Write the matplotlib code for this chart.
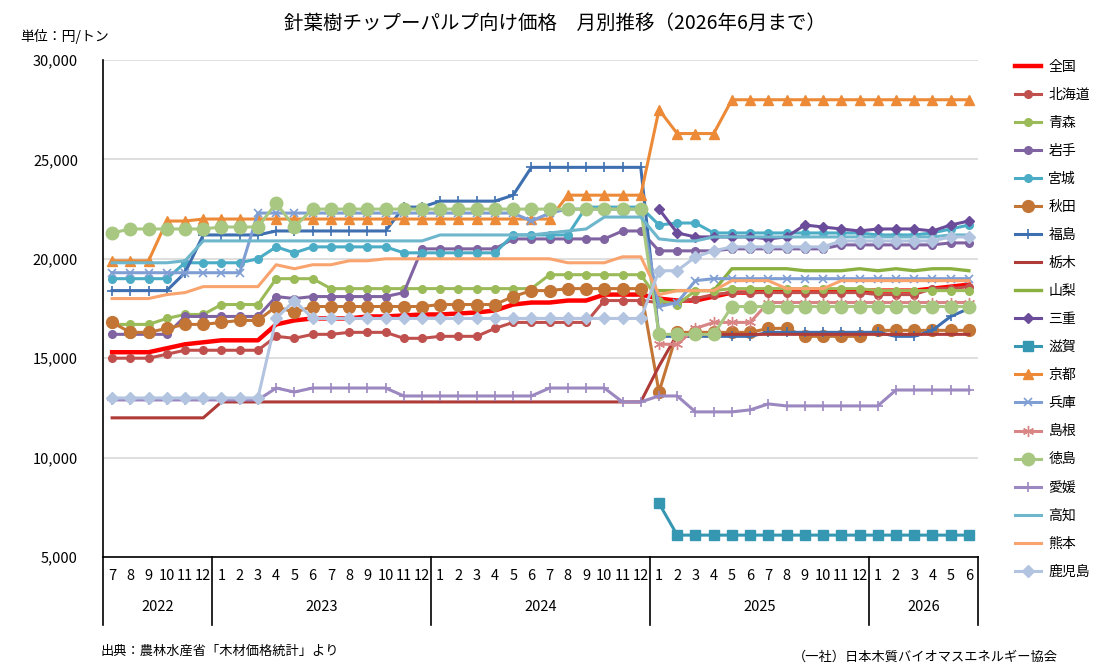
import numpy as np
import matplotlib
matplotlib.use("Agg")
import matplotlib.pyplot as plt
import matplotlib.transforms as mtransforms
from matplotlib.ticker import FuncFormatter

plt.rcParams['font.family'] = ['Noto Sans CJK JP', 'DejaVu Sans']

# months: 2022-07 .. 2026-06
years = ['2022', '2023', '2024', '2025', '2026']
months = [
    [7, 8, 9, 10, 11, 12],
    [1, 2, 3, 4, 5, 6, 7, 8, 9, 10, 11, 12],
    [1, 2, 3, 4, 5, 6, 7, 8, 9, 10, 11, 12],
    [1, 2, 3, 4, 5, 6, 7, 8, 9, 10, 11, 12],
    [1, 2, 3, 4, 5, 6],
]
N = None

# prices (円/トン), one row per year block
zenkoku = [15300, 15300, 15300, 15500, 15700, 15800,
           15900, 15900, 15900, 16700, 16900, 17000, 17000, 17000, 17100, 17100, 17150, 17200,
           17200, 17250, 17300, 17400, 17700, 17800, 17800, 17900, 17900, 18200, 18200, 18200,
           18000, 17900, 17900, 18100, 18300, 18300, 18400, 18400, 18400, 18400, 18400, 18400,
           18400, 18400, 18400, 18500, 18600, 18700]
hokkaido = [15000, 15000, 15000, 15200, 15400, 15400,
            15400, 15400, 15400, 16100, 16000, 16200, 16200, 16300, 16300, 16300, 16000, 16000,
            16100, 16100, 16100, 16500, 16800, 16800, 16800, 16800, 16800, 17900, 17900, 17900,
            17800, 17800, 18000, 18200, 18300, 18300, 18300, 18300, 18300, 18300, 18300, 18300,
            18200, 18200, 18200, 18500, 18500, 18600]
aomori = [16700, 16700, 16700, 17000, 17200, 17200,
          17700, 17700, 17700, 19000, 19000, 19000, 18500, 18500, 18500, 18500, 18500, 18500,
          18500, 18500, 18500, 18500, 18500, 18500, 19200, 19200, 19200, 19200, 19200, 19200,
          17900, 17700, 18400, 18400, 18500, 18500, 18500, 18500, 18500, 18500, 18500, 18500,
          18400, 18400, 18400, 18400, 18400, 18400]
iwate = [16200, 16200, 16200, 16200, 17100, 17100,
         17100, 17100, 17100, 18100, 18000, 18100, 18100, 18100, 18100, 18100, 18300, 20500,
         20500, 20500, 20500, 20500, 21000, 21000, 21000, 21000, 21000, 21000, 21400, 21400,
         20400, 20400, 20400, 20400, 20500, 20500, 20500, 20500, 20500, 20500, 20700, 20700,
         20700, 20700, 20700, 20700, 20800, 20800]
miyagi = [19000, 19000, 19000, 19000, 19800, 19800,
          19800, 19800, 20000, 20600, 20300, 20600, 20600, 20600, 20600, 20600, 20300, 20300,
          20300, 20300, 20300, 20300, 21200, 21200, 21200, 21200, 22600, 22600, 22600, 22600,
          21700, 21800, 21800, 21300, 21300, 21300, 21300, 21300, 21300, 21300, 21300, 21300,
          21200, 21200, 21200, 21300, 21500, 21700]
akita = [16800, 16300, 16300, 16500, 16700, 16700,
         16800, 16900, 16900, 17600, 17300, 17600, 17600, 17600, 17600, 17600, 17600, 17600,
         17700, 17700, 17700, 17700, 18100, 18400, 18400, 18500, 18500, 18500, 18500, 18500,
         13300, 16300, 16300, 16300, 16300, 16300, 16500, 16500, 16100, 16100, 16100, 16100,
         16400, 16400, 16400, 16400, 16400, 16400]
fukushima = [18400, 18400, 18400, 18400, 19300, 21200,
             21200, 21200, 21200, 21400, 21400, 21400, 21400, 21400, 21400, 21400, 22600, 22600,
             22900, 22900, 22900, 22900, 23200, 24600, 24600, 24600, 24600, 24600, 24600, 24600,
             16100, 16100, 16100, 16100, 16100, 16100, 16300, 16300, 16300, 16300, 16300, 16300,
             16300, 16100, 16100, 16400, 17100, 17500]
tochigi = [12000, 12000, 12000, 12000, 12000, 12000,
           12800, 12800, 12800, 12800, 12800, 12800, 12800, 12800, 12800, 12800, 12800, 12800,
           12800, 12800, 12800, 12800, 12800, 12800, 12800, 12800, 12800, 12800, 12800, 12800,
           14600, 16200, 16200, 16200, 16200, 16200, 16200, 16200, 16200, 16200, 16200, 16200,
           16200, 16200, 16200, 16200, 16200, 16200]
yamanashi = [N, N, N, N, N, N,
             N, N, N, N, N, N, N, N, N, N, N, N,
             N, N, N, N, N, N, N, N, N, N, N, N,
             18400, 18400, 18400, 18400, 19500, 19500, 19500, 19500, 19400, 19400, 19400, 19500,
             19400, 19500, 19400, 19500, 19500, 19400]
mie = [N, N, N, N, N, N,
       N, N, N, N, N, N, N, N, N, N, N, N,
       N, N, N, N, N, N, N, N, N, N, N, N,
       22500, 21300, 21100, 21100, 21100, 21100, 21000, 21100, 21700, 21600, 21500, 21400,
       21500, 21500, 21500, 21400, 21700, 21900]
shiga = [N, N, N, N, N, N,
         N, N, N, N, N, N, N, N, N, N, N, N,
         N, N, N, N, N, N, N, N, N, N, N, N,
         7700, 6100, 6100, 6100, 6100, 6100, 6100, 6100, 6100, 6100, 6100, 6100,
         6100, 6100, 6100, 6100, 6100, 6100]
kyoto = [19900, 19900, 19900, 21900, 21900, 22000,
         22000, 22000, 22000, 22000, 22000, 22000, 22000, 22000, 22000, 22000, 22000, 22000,
         22000, 22000, 22000, 22000, 22000, 22000, 22000, 23200, 23200, 23200, 23200, 23200,
         27500, 26300, 26300, 26300, 28000, 28000, 28000, 28000, 28000, 28000, 28000, 28000,
         28000, 28000, 28000, 28000, 28000, 28000]
hyogo = [19300, 19300, 19300, 19300, 19300, 19300,
         19300, 19300, 22300, 22300, 22300, 22300, 22300, 22300, 22300, 22300, 22300, 22300,
         22300, 22300, 22300, 22300, 22300, 21900, 22300, 22500, 22500, 22500, 22500, 22500,
         17600, 17800, 18900, 19000, 19000, 19000, 19000, 19000, 19000, 19000, 19000, 19000,
         19000, 19000, 19000, 19000, 19000, 19000]
shimane = [N, N, N, N, N, N,
           N, N, N, N, N, N, N, N, N, N, N, N,
           N, N, N, N, N, N, N, N, N, N, N, N,
           15700, 15700, 16500, 16800, 16800, 16800, 17800, 17800, 17800, 17800, 17800, 17800,
           17800, 17800, 17800, 17800, 17800, 17800]
tokushima = [21300, 21500, 21500, 21500, 21500, 21500,
             21600, 21600, 21600, 22800, 21600, 22500, 22500, 22500, 22500, 22500, 22500, 22500,
             22500, 22500, 22500, 22500, 22500, 22500, 22500, 22500, 22500, 22500, 22500, 22500,
             16200, 16200, 16200, 16200, 17600, 17600, 17600, 17600, 17600, 17600, 17600, 17600,
             17600, 17600, 17600, 17600, 17600, 17600]
ehime = [12900, 12900, 12900, 12900, 12900, 12900,
         12900, 12900, 12900, 13500, 13300, 13500, 13500, 13500, 13500, 13500, 13100, 13100,
         13100, 13100, 13100, 13100, 13100, 13100, 13500, 13500, 13500, 13500, 12800, 12800,
         13100, 13100, 12300, 12300, 12300, 12400, 12700, 12600, 12600, 12600, 12600, 12600,
         12600, 13400, 13400, 13400, 13400, 13400]
kochi = [19800, 19800, 19800, 19800, 19900, 20900,
         20900, 20900, 20900, 20900, 20900, 20900, 20900, 20900, 20900, 20900, 20900, 20900,
         21200, 21200, 21200, 21200, 21200, 21200, 21300, 21400, 21500, 22100, 22100, 22100,
         21000, 20900, 20900, 21100, 21100, 21100, 21100, 21100, 21100, 21100, 21100, 21100,
         21100, 21100, 21100, 21100, 21200, 21200]
kumamoto = [18000, 18000, 18000, 18200, 18300, 18600,
            18600, 18600, 18600, 19700, 19500, 19700, 19700, 19900, 19900, 20000, 20000, 20000,
            20000, 20000, 20000, 20000, 20000, 20000, 20000, 19800, 19800, 19800, 20100, 20100,
            18200, 18400, 18400, 18400, 18900, 18900, 18900, 18500, 18500, 18500, 18900, 18900,
            18900, 18900, 18900, 18900, 18900, 18900]
kagoshima = [13000, 13000, 13000, 13000, 13000, 13000,
             13000, 13000, 13000, 17000, 17900, 17000, 17000, 17000, 17000, 17000, 17000, 17000,
             17000, 17000, 17000, 17000, 17000, 17000, 17000, 17000, 17000, 17000, 17000, 17000,
             19400, 19400, 20100, 20400, 20600, 20600, 20600, 20600, 20600, 20600, 20900, 20900,
             20900, 20900, 20900, 20900, 21100, 21100]

series = [
    ('全国', zenkoku, dict(color='#FF0000', lw=3.2)),
    ('北海道', hokkaido, dict(color='#C0504D', marker='o', ms=5.5)),
    ('青森', aomori, dict(color='#9BBB59', marker='o', ms=5.5)),
    ('岩手', iwate, dict(color='#8064A2', marker='o', ms=5.5)),
    ('宮城', miyagi, dict(color='#4BACC6', marker='o', ms=5.5)),
    ('秋田', akita, dict(color='#C27535', marker='o', ms=8.5)),
    ('福島', fukushima, dict(color='#3E6FB0', marker='+', ms=7, mew=1.2)),
    ('栃木', tochigi, dict(color='#AE3B38')),
    ('山梨', yamanashi, dict(color='#8AB040', lw=2.4)),
    ('三重', mie, dict(color='#6B4C9A', marker='D', ms=5.5)),
    ('滋賀', shiga, dict(color='#3597B2', marker='s', ms=7.5)),
    ('京都', kyoto, dict(color='#EC8A37', marker='^', ms=7)),
    ('兵庫', hyogo, dict(color='#7F9ED3', marker='x', ms=6, mew=1.2)),
    ('島根', shimane, dict(color='#D98585', marker=(6, 2, 0), ms=8, mew=1.0)),
    ('徳島', tokushima, dict(color='#A8C882', marker='o', ms=9)),
    ('愛媛', ehime, dict(color='#9C88C0', marker='+', ms=7, mew=1.2)),
    ('高知', kochi, dict(color='#6DB6CC')),
    ('熊本', kumamoto, dict(color='#F9A46E')),
    ('鹿児島', kagoshima, dict(color='#B3C4E0', marker='D', ms=6)),
]

month_labels = [str(m) for grp in months for m in grp]
x = np.arange(len(month_labels))

fig = plt.figure(figsize=(11.14, 6.72), dpi=100)
ax = fig.add_axes([103 / 1114, 1 - 557 / 672, 875 / 1114, 497 / 672])

for name, vals, st in series:
    kw = dict(lw=2.2)
    kw.update(st)
    ax.plot(x, np.array(vals, dtype=float), label=name, **kw)

ax.set_xlim(-0.5, len(x) - 0.5)
ax.set_ylim(5000, 30000)
ax.set_yticks(np.arange(5000, 30001, 5000))
ax.yaxis.set_major_formatter(FuncFormatter(lambda v, p: f'{v:,.0f}'))
ax.grid(axis='y', color='#D9D9D9', lw=1.2)
ax.set_axisbelow(True)
ax.tick_params(axis='y', length=0, pad=18, labelsize=10.5)
ax.set_xticks(x)
ax.set_xticklabels(month_labels)
ax.tick_params(axis='x', length=0, pad=9, labelsize=10.5)
for s in ('top', 'right'):
    ax.spines[s].set_visible(False)
for s in ('left', 'bottom'):
    ax.spines[s].set_color('black')
    ax.spines[s].set_linewidth(1.2)

# two-level category axis: year separators + year labels
trans = mtransforms.blended_transform_factory(ax.transData, ax.transAxes)
edges = np.cumsum([0] + [len(g) for g in months]) - 0.5
for e in edges:
    ax.plot([e, e], [0, -0.137], transform=trans, color='black', lw=1.2, clip_on=False)
for yr, a, b in zip(years, edges[:-1], edges[1:]):
    ax.text((a + b) / 2, -0.10, yr, transform=trans, ha='center', va='center', fontsize=10.5)

ax.legend(loc='upper left', bbox_to_anchor=(1015 / 1114, 1 - 60 / 672),
          bbox_transform=fig.transFigure, frameon=False, fontsize=10,
          handlelength=1.9, handletextpad=0.5, labelspacing=1.01,
          borderpad=0, borderaxespad=0)

fig.text(555 / 1114, 1 - 23 / 672, '針葉樹チップーパルプ向け価格　月別推移（2026年6月まで）',
         ha='center', va='center', fontsize=14)
fig.text(20 / 1114, 1 - 36 / 672, '単位：円/トン', va='center', fontsize=10)
fig.text(100 / 1114, 1 - 651 / 672, '出典：農林水産省「木材価格統計」より', va='center', fontsize=9.5)
fig.text(1058 / 1114, 1 - 657 / 672, '（一社）日本木質バイオマスエネルギー協会',
         ha='right', va='center', fontsize=9.5)

fig.savefig('out.png', dpi=100)
